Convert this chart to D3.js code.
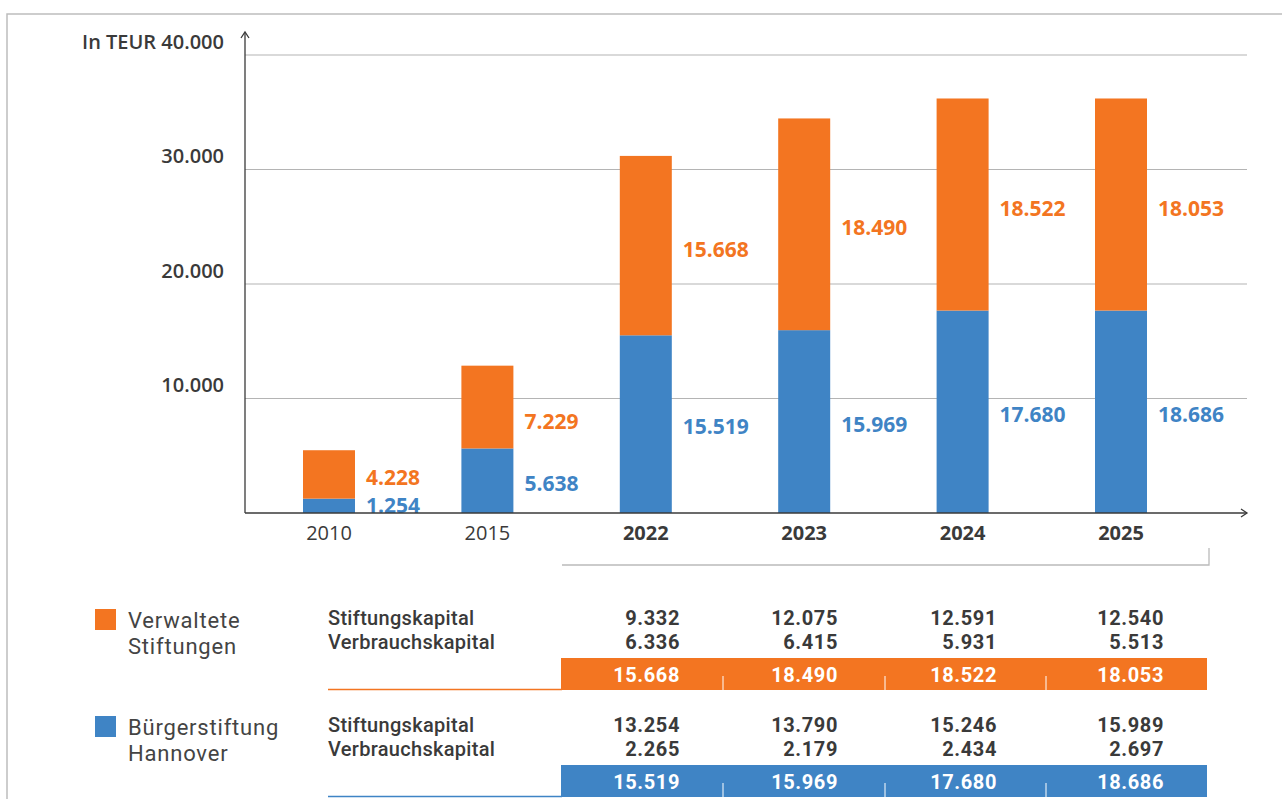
<!DOCTYPE html>
<html>
<head>
<meta charset="utf-8">
<script src="https://cdn.jsdelivr.net/npm/d3@7"></script>
<style>
  html, body { margin: 0; padding: 0; background: #fff; }
  svg { display: block; font-family: "Open Sans", "Noto Sans", sans-serif; }
  .tbl { font-family: Roboto, "Liberation Sans", sans-serif; }
</style>
</head>
<body>
<div id="chart"></div>
<script>
// Stacked bars: Bürgerstiftung (blue) + verwaltete Stiftungen (orange)

const years = ['2010', '2015', '2022', '2023', '2024', '2025'];
const boldYears = ['2022', '2023', '2024', '2025'];

// labels as printed
const blueLabels = [1254, 5638, 15519, 15969, 17680, 18686];
const orangeLabels = [4228, 7229, 15668, 18490, 18522, 18053];
// bar heights as drawn (2025 bar is drawn with the 2024 values in the original)
const blueBars = [1254, 5638, 15519, 15969, 17680, 17680];
const orangeBars = [4228, 7229, 15668, 18490, 18522, 18522];

const yTicks = [10000, 20000, 30000, 40000];

// table below the chart
const tableYears = ['2022', '2023', '2024', '2025'];
const rowLabels = ['Stiftungskapital', 'Verbrauchskapital'];
const orangeStift = [9332, 12075, 12591, 12540];
const orangeVerb = [6336, 6415, 5931, 5513];
const orangeTotal = [15668, 18490, 18522, 18053];
const blueStift = [13254, 13790, 15246, 15989];
const blueVerb = [2265, 2179, 2434, 2697];
const blueTotal = [15519, 15969, 17680, 18686];

const ORANGE = '#f37521';
const BLUE = '#3f84c5';
const TEXT = '#3a3a3a';
const GRID = '#b4b4b4';

const W = 1282, H = 799;
const fmt = v => d3.format(',')(v).replace(/,/g, '.');

const svg = d3.select('#chart').append('svg')
  .attr('width', W).attr('height', H);

// outer frame (top + left)
svg.append('path')
  .attr('d', `M7,${H} V14 H${W}`)
  .attr('fill', 'none').attr('stroke', '#bdbdbd').attr('stroke-width', 1.5);

const x0 = 245, x1 = 1247, yBase = 513;
const y = d3.scaleLinear().domain([0, 40000]).range([yBase, 55]);
const x = d3.scalePoint().domain(years).range([329, 1121]);
const barW = 52;

// gridlines
svg.append('g').selectAll('line')
  .data(yTicks)
  .join('line')
  .attr('x1', x0).attr('x2', x1)
  .attr('y1', d => y(d)).attr('y2', d => y(d))
  .attr('stroke', GRID).attr('stroke-width', 1.2);

// y tick labels
svg.append('g').selectAll('text')
  .data(yTicks)
  .join('text')
  .attr('x', 224)
  .attr('y', d => y(d) - 14)
  .attr('text-anchor', 'end')
  .attr('dominant-baseline', 'central')
  .attr('font-size', 20).attr('font-weight', 600).attr('fill', TEXT)
  .text(d => (d === 40000 ? 'In TEUR ' : '') + fmt(d));

// bars
const bars = years.map((yr, i) => ({ yr, b: blueBars[i], o: orangeBars[i], bl: blueLabels[i], ol: orangeLabels[i] }));
const bg = svg.append('g');
bg.selectAll('rect.blue')
  .data(bars).join('rect')
  .attr('class', 'blue')
  .attr('x', d => x(d.yr) - barW / 2)
  .attr('width', barW)
  .attr('y', d => y(d.b))
  .attr('height', d => yBase - y(d.b))
  .attr('fill', BLUE);
bg.selectAll('rect.orange')
  .data(bars).join('rect')
  .attr('class', 'orange')
  .attr('x', d => x(d.yr) - barW / 2)
  .attr('width', barW)
  .attr('y', d => y(d.b + d.o))
  .attr('height', d => y(d.b) - y(d.b + d.o))
  .attr('fill', ORANGE);

// value labels
bg.selectAll('text.bl')
  .data(bars).join('text')
  .attr('class', 'bl')
  .attr('x', d => x(d.yr) + barW / 2 + 11)
  .attr('y', d => Math.min((y(d.b) + yBase) / 2 + 2, yBase - 8))
  .attr('dominant-baseline', 'central')
  .attr('font-size', 21).attr('font-weight', 700).attr('fill', BLUE)
  .text(d => fmt(d.bl));
bg.selectAll('text.ol')
  .data(bars).join('text')
  .attr('class', 'ol')
  .attr('x', d => x(d.yr) + barW / 2 + 11)
  .attr('y', (d, i) => (y(d.b) + y(d.b + d.o)) / 2 + (i === 1 ? 14 : 3))
  .attr('dominant-baseline', 'central')
  .attr('font-size', 21).attr('font-weight', 700).attr('fill', ORANGE)
  .text(d => fmt(d.ol));

// axes with open arrowheads
const ax = svg.append('g').attr('fill', 'none').attr('stroke', '#3a3a3a').attr('stroke-width', 1.3);
ax.append('path').attr('d', `M${x0},${yBase} V33`);
ax.append('path').attr('d', `M${x0 - 4},38 L${x0},32 L${x0 + 4},38`);
ax.append('path').attr('d', `M${x0},${yBase} H${x1}`);
ax.append('path').attr('d', `M${x1 - 6},${yBase - 4} L${x1},${yBase} L${x1 - 6},${yBase + 4}`);

// x labels
svg.append('g').selectAll('text')
  .data(years).join('text')
  .attr('x', d => x(d))
  .attr('y', 532)
  .attr('text-anchor', 'middle')
  .attr('dominant-baseline', 'central')
  .attr('font-size', 20)
  .attr('font-weight', d => boldYears.includes(d) ? 700 : 400)
  .attr('fill', TEXT)
  .text(d => d);

// bracket under recent years
svg.append('path')
  .attr('d', 'M562,565 H1209 V548')
  .attr('fill', 'none').attr('stroke', '#bbbbbb').attr('stroke-width', 1.3);

// table: right edges of the value columns
const tx = d3.scaleOrdinal().domain(tableYears).range([680, 838, 997, 1164]);
const colEdges = [723, 885, 1046];

const groups = [
  { color: ORANGE, legend: ['Verwaltete', 'Stiftungen'], top: 609, rows: [orangeStift, orangeVerb], total: orangeTotal },
  { color: BLUE, legend: ['Bürgerstiftung', 'Hannover'], top: 716, rows: [blueStift, blueVerb], total: blueTotal }
];

groups.forEach(gr => {
  const g = svg.append('g').attr('class', 'tbl');
  g.append('rect')
    .attr('x', 95).attr('y', gr.top).attr('width', 21).attr('height', 21)
    .attr('fill', gr.color);

  g.selectAll('text.leg')
    .data(gr.legend).join('text')
    .attr('class', 'leg')
    .attr('x', 128).attr('y', (d, i) => gr.top + 11 + i * 26)
    .attr('dominant-baseline', 'central')
    .attr('font-size', 22).attr('letter-spacing', 0.8).attr('fill', '#444')
    .text(d => d);

  g.selectAll('text.rl')
    .data(rowLabels).join('text')
    .attr('class', 'rl')
    .attr('x', 328).attr('y', (d, i) => gr.top + 9 + i * 24)
    .attr('dominant-baseline', 'central')
    .attr('font-size', 20).attr('font-weight', 500).attr('letter-spacing', 0.3).attr('fill', TEXT)
    .text(d => d);

  gr.rows.forEach((row, ri) => {
    g.selectAll(`text.v${ri}`)
      .data(row).join('text')
      .attr('class', `v${ri}`)
      .attr('x', (d, i) => tx(tableYears[i]))
      .attr('y', gr.top + 9 + ri * 24)
      .attr('text-anchor', 'end')
      .attr('dominant-baseline', 'central')
      .attr('font-size', 20).attr('font-weight', 700).attr('letter-spacing', 0.6).attr('fill', TEXT)
      .text(d => fmt(d));
  });

  const rowTop = gr.top + 49;
  g.append('line')
    .attr('x1', 328).attr('x2', 562)
    .attr('y1', rowTop + 31.5).attr('y2', rowTop + 31.5)
    .attr('stroke', gr.color).attr('stroke-width', 1.3);
  g.append('rect')
    .attr('x', 561).attr('y', rowTop).attr('width', 646).attr('height', 32)
    .attr('fill', gr.color);
  g.selectAll('line.sep')
    .data(colEdges).join('line')
    .attr('class', 'sep')
    .attr('x1', d => d).attr('x2', d => d)
    .attr('y1', rowTop + 18).attr('y2', rowTop + 32)
    .attr('stroke', '#fff').attr('stroke-width', 1);
  g.selectAll('text.tot')
    .data(gr.total).join('text')
    .attr('class', 'tot')
    .attr('x', (d, i) => tx(tableYears[i]))
    .attr('y', rowTop + 17)
    .attr('text-anchor', 'end')
    .attr('dominant-baseline', 'central')
    .attr('font-size', 20).attr('font-weight', 700).attr('letter-spacing', 0.6).attr('fill', '#fff')
    .text(d => fmt(d));
});
</script>
</body>
</html>
